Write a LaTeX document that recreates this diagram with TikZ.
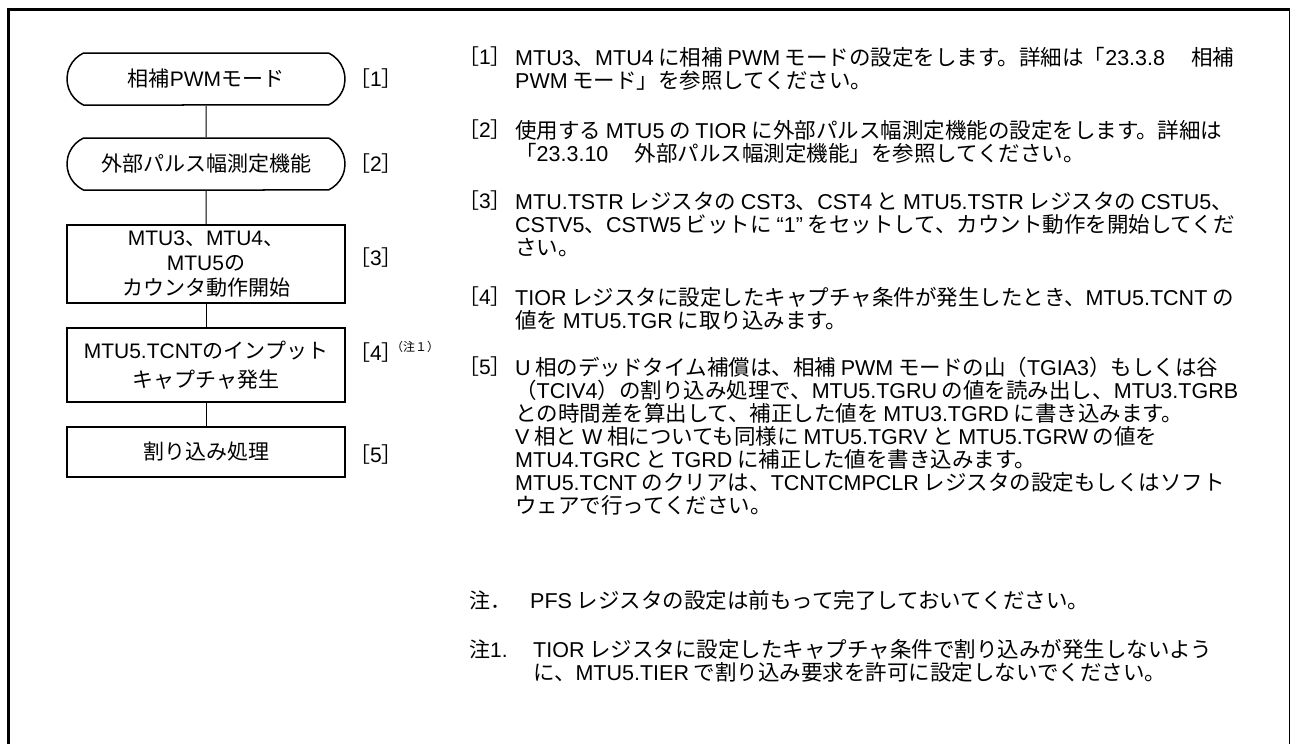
\documentclass[tikz,border=0pt]{standalone}
\usepackage{fontspec}
\setmainfont{Liberation Sans}
\newfontfamily\jpfont{Noto Sans CJK JP}
\usetikzlibrary{positioning,shapes.misc}
% Japanese characters go to the CJK font, the rest stays in Liberation Sans
\XeTeXinterchartokenstate=1
\newXeTeXintercharclass\jpclass
\newXeTeXintercharclass\jppunct
\newcount\jpcode
\jpcode="3000 \loop\XeTeXcharclass\jpcode=\jpclass\advance\jpcode 1 \ifnum\jpcode<"3100 \repeat
\jpcode="4E00 \loop\XeTeXcharclass\jpcode=\jpclass\advance\jpcode 1 \ifnum\jpcode<"A000 \repeat
\jpcode="FF00 \loop\XeTeXcharclass\jpcode=\jpclass\advance\jpcode 1 \ifnum\jpcode<"FFF0 \repeat
\XeTeXcharclass"3001=\jppunct \XeTeXcharclass"3002=\jppunct
\XeTeXcharclass"300C=\jppunct \XeTeXcharclass"300D=\jppunct
\XeTeXcharclass"FF08=\jppunct \XeTeXcharclass"FF09=\jppunct
\newcommand\xgap{}
\XeTeXinterchartoks 0 \jpclass = {\xgap\jpfont}
\XeTeXinterchartoks 4095 \jpclass = {\jpfont}
\XeTeXinterchartoks \jpclass 0 = {\xgap\rmfamily}
\XeTeXinterchartoks 0 \jppunct = {\jpfont}
\XeTeXinterchartoks 4095 \jppunct = {\jpfont}
\XeTeXinterchartoks \jppunct 0 = {\rmfamily}
\XeTeXinterchartoks 4095 0 = {\rmfamily}

\begin{document}
\begin{tikzpicture}[x=1pt,y=-1pt,
  term/.style={rounded rectangle,rounded rectangle arc length=130,draw,line width=1.5pt,
    minimum width=278pt,minimum height=52pt,inner sep=0pt,font=\fontsize{21}{25}\selectfont},
  proc/.style={rectangle,draw,line width=1.5pt,minimum width=278pt,inner sep=0pt,
    align=center,font=\fontsize{21}{25}\selectfont},
  num/.style={anchor=west,inner sep=0pt,font=\fontsize{21}{23}\selectfont},
  desc/.style={anchor=base west,align=left,inner sep=0pt,
    font=\fontsize{21.5}{23}\selectfont\def\xgap{\hskip0.22em\relax}}]
  \useasboundingbox (0,0) rectangle (1291,744);
  % frame, open at the bottom
  \draw[line width=3pt] (8.5,744) -- (8.5,9.5) -- (1289.5,9.5);
  \draw[line width=1pt] (1289.5,9.5) -- (1289.5,744);

  % flow
  \node[term] (mode) at (206,79) {相補PWMモード};
  \node[term] (meas) at (206,164) {外部パルス幅測定機能};
  \node[proc,minimum height=78pt] (start) at (206,264) {MTU3、MTU4、\\MTU5の\\カウンタ動作開始};
  \node[proc,minimum height=74pt,font=\fontsize{21}{29}\selectfont] (capt) at (206,365) {MTU5.TCNTのインプット\\キャプチャ発生};
  \node[proc,minimum height=50pt] (intr) at (206,452) {割り込み処理};
  \foreach \a/\b in {mode/meas,meas/start,start/capt,capt/intr}
    \draw[line width=1pt] (\a) -- (\b);

  \node[num] (s1) at (349,79) {［1］};
  \node[num] (s2) at (349,164) {［2］};
  \node[num] (s3) at (349,258) {［3］};
  \node[num] (s4) at (349,353) {［4］};
  \node[num] (s5) at (349,455) {［5］};
  \node[anchor=west,inner sep=0pt,font=\fontsize{12}{12}\selectfont] (s4note) at (391,347) {（注１）};

  % explanations (anchored at the baseline of the last line)
  \node[num] (k1) at (458,57) {［1］};
  \node[desc] (t1) at (515,88) {MTU3、MTU4に相補PWMモードの設定をします。詳細は「23.3.8　相補\\PWMモード」を参照してください。};
  \node[num] (k2) at (458,130) {［2］};
  \node[desc] (t2) at (515,161) {使用するMTU5のTIORに外部パルス幅測定機能の設定をします。詳細は\\「23.3.10　外部パルス幅測定機能」を参照してください。};
  \node[num] (k3) at (458,201) {［3］};
  \node[desc] (t3) at (515,255) {MTU.TSTRレジスタのCST3、CST4とMTU5.TSTRレジスタのCSTU5、\\CSTV5、CSTW5ビットに“1”をセットして、カウント動作を開始してくだ\\さい。};
  \node[num] (k4) at (458,297) {［4］};
  \node[desc] (t4) at (515,328) {TIORレジスタに設定したキャプチャ条件が発生したとき、MTU5.TCNTの\\値をMTU5.TGRに取り込みます。};
  \node[num] (k5) at (458,367) {［5］};
  \node[desc] (t5) at (515,513) {U相のデッドタイム補償は、相補PWMモードの山（TGIA3）もしくは谷\\（TCIV4）の割り込み処理で、MTU5.TGRUの値を読み出し、MTU3.TGRB\\との時間差を算出して、補正した値をMTU3.TGRDに書き込みます。\\V相とW相についても同様にMTU5.TGRVとMTU5.TGRWの値を\\MTU4.TGRCとTGRDに補正した値を書き込みます。\\MTU5.TCNTのクリアは、TCNTCMPCLRレジスタの設定もしくはソフト\\ウェアで行ってください。};

  % notes
  \node[num] (nt) at (469,600) {注．};
  \node[desc] (tn) at (530,608) {PFSレジスタの設定は前もって完了しておいてください。};
  \node[num] (nt1) at (469,649) {注1.};
  \node[desc] (tn1) at (533,680) {TIORレジスタに設定したキャプチャ条件で割り込みが発生しないよう\\に、MTU5.TIERで割り込み要求を許可に設定しないでください。};
\end{tikzpicture}
\end{document}
